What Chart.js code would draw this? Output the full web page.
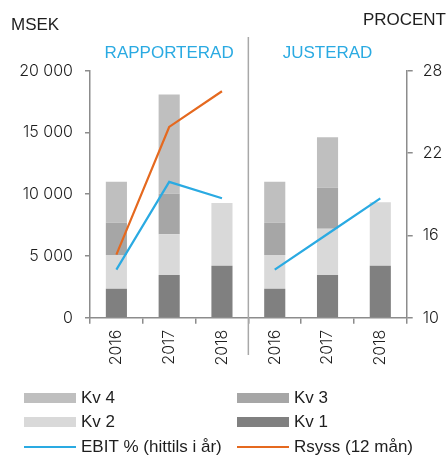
<!DOCTYPE html>
<html>
<head>
<meta charset="utf-8">
<script src="https://cdn.jsdelivr.net/npm/chart.js@4.4.1/dist/chart.umd.min.js"></script>
<style>
  html, body { margin: 0; padding: 0; background: #fff; }
  #wrap { width: 446px; height: 457px; position: relative; }
</style>
</head>
<body>
<div id="wrap"><canvas id="myChart"></canvas></div>
<script>
// years, left panel = rapporterad, right panel = justerad
var years = ['2016', '2017', '2018', '2016', '2017', '2018'];

// MSEK per quarter (stacked)
var kv1 = [2350, 3450, 4210, 2350, 3450, 4210];
var kv2 = [2720, 3300, 5070, 2720, 3750, 5130];
var kv3 = [2620, 3290, null, 2620, 3320, null];
var kv4 = [3320, 8040, null, 3320, 4100, null];

// percent
var ebit = [13.5, 19.9, 18.7, 13.5, 16.1, 18.7];
var rsyss = [14.6, 23.9, 26.5, null, null, null];

var panelTitles = ['RAPPORTERAD', 'JUSTERAD'];

var FONT = "'Liberation Sans', Arial, sans-serif";
var NUMFONT = "Inter, 'Liberation Sans', sans-serif";
var TXT = '#1e1e1e';
var AXIS = '#8c8c8c';
var BLUE = '#2aaae2';
var ORANGE = '#e5691f';

function fmt(v) {
    return v.toString().replace(/\B(?=(\d{3})+(?!\d))/g, ' ');
}

// titles, divider and legend
var extras = {
    id: 'extras',
    afterDraw: function (chart) {
        var ctx = chart.ctx;
        var x = chart.scales.x;
        ctx.save();

        // divider between panels
        var midX = (x.getPixelForValue(2) + x.getPixelForValue(3)) / 2;
        ctx.strokeStyle = '#a8a8a8';
        ctx.lineWidth = 1.5;
        ctx.beginPath();
        ctx.moveTo(midX, 37);
        ctx.lineTo(midX, 355);
        ctx.stroke();

        ctx.font = '17px ' + FONT;
        ctx.textBaseline = 'middle';
        ctx.fillStyle = TXT;
        ctx.textAlign = 'left';
        ctx.fillText('MSEK', 11, 25);
        ctx.textAlign = 'right';
        ctx.fillText('PROCENT', 446, 20);

        ctx.fillStyle = BLUE;
        ctx.textAlign = 'center';
        ctx.fillText(panelTitles[0], x.getPixelForValue(1), 53);
        ctx.fillText(panelTitles[1], x.getPixelForValue(4), 53);

        // legend, two columns
        var ds = chart.data.datasets;
        var items = [ds[3], ds[2], ds[1], ds[0], ds[4], ds[5]];
        var cols = [24, 237];
        var rows = [398, 422, 447];
        items.forEach(function (d, i) {
            var lx = cols[i % 2];
            var ly = rows[Math.floor(i / 2)];
            if (d.type === 'line') {
                ctx.strokeStyle = d.borderColor;
                ctx.lineWidth = 2.2;
                ctx.beginPath();
                ctx.moveTo(lx, ly);
                ctx.lineTo(lx + 52, ly);
                ctx.stroke();
            } else {
                ctx.fillStyle = d.backgroundColor;
                ctx.fillRect(lx, ly - 5, 52, 10);
            }
            ctx.fillStyle = TXT;
            ctx.textAlign = 'left';
            ctx.fillText(d.label, lx + 57, ly);
        });
        ctx.restore();
    }
};

var barOpts = { barPercentage: 0.4, categoryPercentage: 1, borderWidth: 0, order: 2, yAxisID: 'y' };

var ctx1 = document.getElementById('myChart').getContext('2d');
var chart1 = new Chart(ctx1, {
    type: 'bar',
    data: {
        labels: years,
        datasets: [
            Object.assign({ label: 'Kv 1', data: kv1, backgroundColor: '#808080' }, barOpts),
            Object.assign({ label: 'Kv 2', data: kv2, backgroundColor: '#d9d9d9' }, barOpts),
            Object.assign({ label: 'Kv 3', data: kv3, backgroundColor: '#a6a6a6' }, barOpts),
            Object.assign({ label: 'Kv 4', data: kv4, backgroundColor: '#bfbfbf' }, barOpts),
            {
                type: 'line',
                label: 'EBIT % (hittils i år)',
                data: ebit,
                yAxisID: 'y1',
                borderColor: BLUE,
                borderWidth: 2.2,
                pointRadius: 0,
                tension: 0,
                order: 1,
                // no line across the panel gap
                segment: {
                    borderColor: function (c) { return c.p0DataIndex === 2 ? 'transparent' : BLUE; }
                }
            },
            {
                type: 'line',
                label: 'Rsyss (12 mån)',
                data: rsyss,
                yAxisID: 'y1',
                borderColor: ORANGE,
                borderWidth: 2.2,
                pointRadius: 0,
                tension: 0,
                order: 0
            }
        ]
    },
    options: {
        responsive: true,
        maintainAspectRatio: false,
        animation: false,
        layout: { padding: { top: 70.7, bottom: 79.3, left: 0, right: 0 } },
        plugins: {
            legend: { display: false },
            tooltip: { enabled: false }
        },
        scales: {
            x: {
                stacked: true,
                grid: { drawOnChartArea: false, tickLength: 6, color: AXIS, lineWidth: 1.5, offset: true },
                border: { color: AXIS, width: 1.5 },
                ticks: { minRotation: 90, maxRotation: 90, padding: 6, color: TXT, font: { family: NUMFONT, size: 16, weight: '300' } },
                afterFit: function (s) { s.height = 60; }
            },
            y: {
                stacked: true,
                position: 'left',
                min: 0,
                max: 20000,
                grid: { drawOnChartArea: false, tickLength: 5, color: AXIS, lineWidth: 1.5 },
                border: { color: AXIS, width: 1.5 },
                ticks: {
                    stepSize: 5000,
                    padding: 12,
                    color: TXT,
                    font: { family: NUMFONT, size: 16, weight: '300' },
                    callback: function (v) { return fmt(v); }
                },
                afterFit: function (s) { s.width = 90; }
            },
            y1: {
                position: 'right',
                min: 10,
                max: 28,
                grid: { drawOnChartArea: false, tickLength: 6, color: AXIS, lineWidth: 1.5 },
                border: { color: AXIS, width: 1.5 },
                ticks: { stepSize: 6, padding: 10, color: TXT, font: { family: NUMFONT, size: 16, weight: '300' } },
                afterFit: function (s) { s.width = 39.3; }
            }
        }
    },
    plugins: [extras]
});
</script>
</body>
</html>
